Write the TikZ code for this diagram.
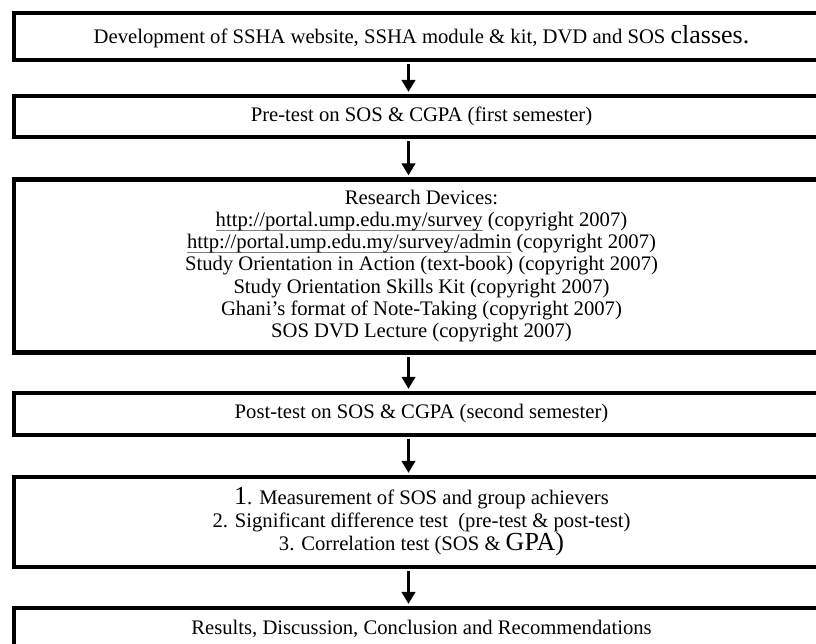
\documentclass[tikz,border=0pt]{standalone}
\usepackage{fontspec}
\setmainfont{Liberation Serif}
\usetikzlibrary{arrows.meta}
\newsavebox\ulbox
\newcommand\grayul[1]{\sbox\ulbox{#1}\leavevmode\rlap{\color{black!50}\rule[-3.2pt]{\wd\ulbox}{0.7pt}}\usebox\ulbox}
\newcommand\bigger[1]{{\fontsize{19.5pt}{16.7pt}\selectfont #1}}
\tikzset{
  stagebox/.style={draw=black, line width=3.2pt, fill=white, inner sep=0pt,
    minimum width=611.25pt, align=center, text=black,
    font=\fontsize{15.5pt}{16.7pt}\selectfont},
  flowarrow/.style={line width=2.25pt, -{Triangle[length=9pt,width=10pt]},
    shorten >=1.5pt, shorten <=1.5pt}
}
\begin{document}
\begin{tikzpicture}[x=0.75pt,y=-0.75pt]
\useasboundingbox (0,0) rectangle (816,643);
\clip (0,0) rectangle (816,643);
\node[stagebox, minimum height=35.25pt] (b1) at (421.5,36.5)
  {Development of SSHA website, SSHA module \& kit, DVD and SOS \bigger{classes.}};
\node[stagebox, minimum height=30.75pt] (b2) at (421.5,116.5)
  {Pre-test on SOS \& CGPA (first semester)};
\node[stagebox, minimum height=129.75pt] (b3) at (421.5,266)
  {Research Devices:\\
   \grayul{http://portal.ump.edu.my/survey} (copyright 2007)\\
   \grayul{http://portal.ump.edu.my/survey/admin} (copyright 2007)\\
   Study Orientation in Action (text-book) (copyright 2007)\\
   Study Orientation Skills Kit (copyright 2007)\\
   Ghani’s format of Note-Taking (copyright 2007)\\
   SOS DVD Lecture (copyright 2007)};
\node[stagebox, minimum height=31.5pt] (b4) at (421.5,414)
  {Post-test on SOS \& CGPA (second semester)};
\node[stagebox, minimum height=67.5pt] (b5) at (421.5,522)
  {\bigger{1}. Measurement of SOS and group achievers\\
   2. Significant difference test\ \ (pre-test \& post-test)\\
   3. Correlation test (SOS \& \bigger{GPA)}};
\node[stagebox, minimum height=30.75pt] (b6) at (421.5,628.5)
  {Results, Discussion, Conclusion and Recommendations};
\foreach \a/\b in {b1/b2,b2/b3,b3/b4,b4/b5,b5/b6}
  \draw[flowarrow] ([xshift=-9.75pt]\a.south) -- ([xshift=-9.75pt]\b.north);
\end{tikzpicture}
\end{document}
